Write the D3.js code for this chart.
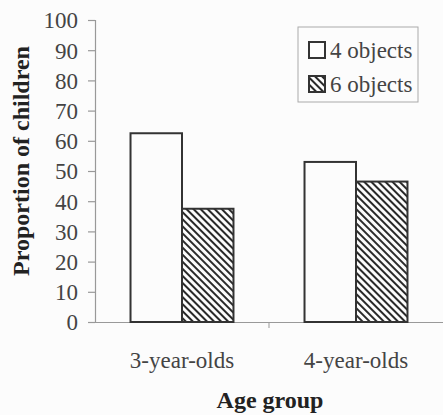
<!DOCTYPE html>
<html>
<head>
<meta charset="utf-8">
<script src="https://cdn.jsdelivr.net/npm/d3@7"></script>
<style>
  body { margin: 0; background: #fcfcfc; }
  svg { display: block; }
  svg text { font-family: "Liberation Serif", "Times New Roman", serif !important; }
</style>
</head>
<body>
<div id="chart"></div>
<script>
var ageGroups = ["3-year-olds", "4-year-olds"];
var seriesNames = ["4 objects", "6 objects"];
var fourObjects = [62.5, 53];
var sixObjects = [37.5, 46.5];
var yTicks = [0, 10, 20, 30, 40, 50, 60, 70, 80, 90, 100];

var chartWidth = 443, chartHeight = 415;
var plotLeft = 95, plotRight = 443, plotTop = 20, plotBottom = 322;

var svg = d3.select("#chart")
	.append("svg")
	.attr("width", chartWidth)
	.attr("height", chartHeight);

// hatch for the 6 objects bars
var pat = svg.append("defs")
	.append("pattern")
	.attr("id", "hatch")
	.attr("patternUnits", "userSpaceOnUse")
	.attr("width", 5)
	.attr("height", 5)
	.attr("patternTransform", "rotate(45)");
pat.append("rect").attr("width", 5).attr("height", 5).attr("fill", "#fcfcfc");
pat.append("line")
	.attr("x1", 0).attr("y1", 1).attr("x2", 5).attr("y2", 1)
	.attr("stroke", "#2a2a2a")
	.attr("stroke-width", 2);

var x = d3.scaleBand().domain(ageGroups).range([plotLeft, plotRight]);
var xs = d3.scaleBand().domain(seriesNames).range([0, x.bandwidth()]).paddingOuter(0.69);
var y = d3.scaleLinear().domain([0, 100]).range([plotBottom, plotTop]);

var rows = ageGroups.map(function(g, i) {
	return [{ g: g, s: seriesNames[0], v: fourObjects[i] }, { g: g, s: seriesNames[1], v: sixObjects[i] }];
});

// y axis
var yAxis = svg.append("g")
	.attr("transform", "translate(" + plotLeft + ",0)")
	.call(d3.axisLeft(y).tickValues(yTicks).tickSize(7).tickPadding(10))
	.attr("font-family", null)
	.attr("font-size", null);
yAxis.select(".domain").attr("stroke", "#999").attr("stroke-width", 1.2);
yAxis.selectAll(".tick line").attr("stroke", "#999").attr("stroke-width", 1.2);
yAxis.selectAll(".tick text")
	.attr("fill", "#444")
	.style("font-size", "23px")
	.attr("dy", "0.34em");

// x axis
var xAxis = svg.append("g")
	.attr("transform", "translate(0," + plotBottom + ")")
	.call(d3.axisBottom(x).tickSize(0).tickPadding(30))
	.attr("font-family", null)
	.attr("font-size", null);
xAxis.select(".domain").attr("stroke", "#999").attr("stroke-width", 1.2);
xAxis.selectAll(".tick text")
	.attr("fill", "#444")
	.style("font-size", "23px");
// boundary tick between the groups
xAxis.selectAll(".sep")
	.data(ageGroups.slice(1))
	.enter().append("line")
	.attr("x1", function(d) { return x(d); })
	.attr("x2", function(d) { return x(d); })
	.attr("y1", 0).attr("y2", 6)
	.attr("stroke", "#999");

// bars
svg.selectAll(".grp")
	.data(rows)
	.enter().append("g")
	.selectAll("rect")
	.data(function(d) { return d; })
	.enter().append("rect")
	.attr("x", function(d) { return x(d.g) + xs(d.s); })
	.attr("y", function(d) { return y(d.v); })
	.attr("width", xs.bandwidth())
	.attr("height", function(d) { return y(0) - y(d.v); })
	.attr("fill", function(d) { return d.s == seriesNames[1] ? "url(#hatch)" : "#fcfcfc"; })
	.attr("stroke", "#333")
	.attr("stroke-width", 2);

// axis titles
svg.append("text")
	.attr("transform", "translate(29,161) rotate(-90)")
	.attr("text-anchor", "middle")
	.style("font-weight", "bold")
	.style("font-size", "24px")
	.attr("fill", "#222")
	.text("Proportion of children");

svg.append("text")
	.attr("x", 270)
	.attr("y", 408)
	.attr("text-anchor", "middle")
	.style("font-weight", "bold")
	.style("font-size", "24px")
	.attr("fill", "#222")
	.text("Age group");

// legend
var legend = svg.append("g");
legend.append("rect")
	.attr("x", 298).attr("y", 27)
	.attr("width", 120).attr("height", 75)
	.attr("fill", "none")
	.attr("stroke", "#aaa");
var li = legend.selectAll(".item")
	.data(seriesNames)
	.enter().append("g")
	.attr("transform", function(d, i) { return "translate(309," + (42 + i * 34) + ")"; });
li.append("rect")
	.attr("width", 16).attr("height", 16)
	.attr("fill", function(d, i) { return i == 1 ? "url(#hatch)" : "#fcfcfc"; })
	.attr("stroke", "#333")
	.attr("stroke-width", 2);
li.append("text")
	.attr("x", 21).attr("y", 16)
	.style("font-size", "23px")
	.attr("fill", "#444")
	.text(function(d) { return d; });
</script>
</body>
</html>
